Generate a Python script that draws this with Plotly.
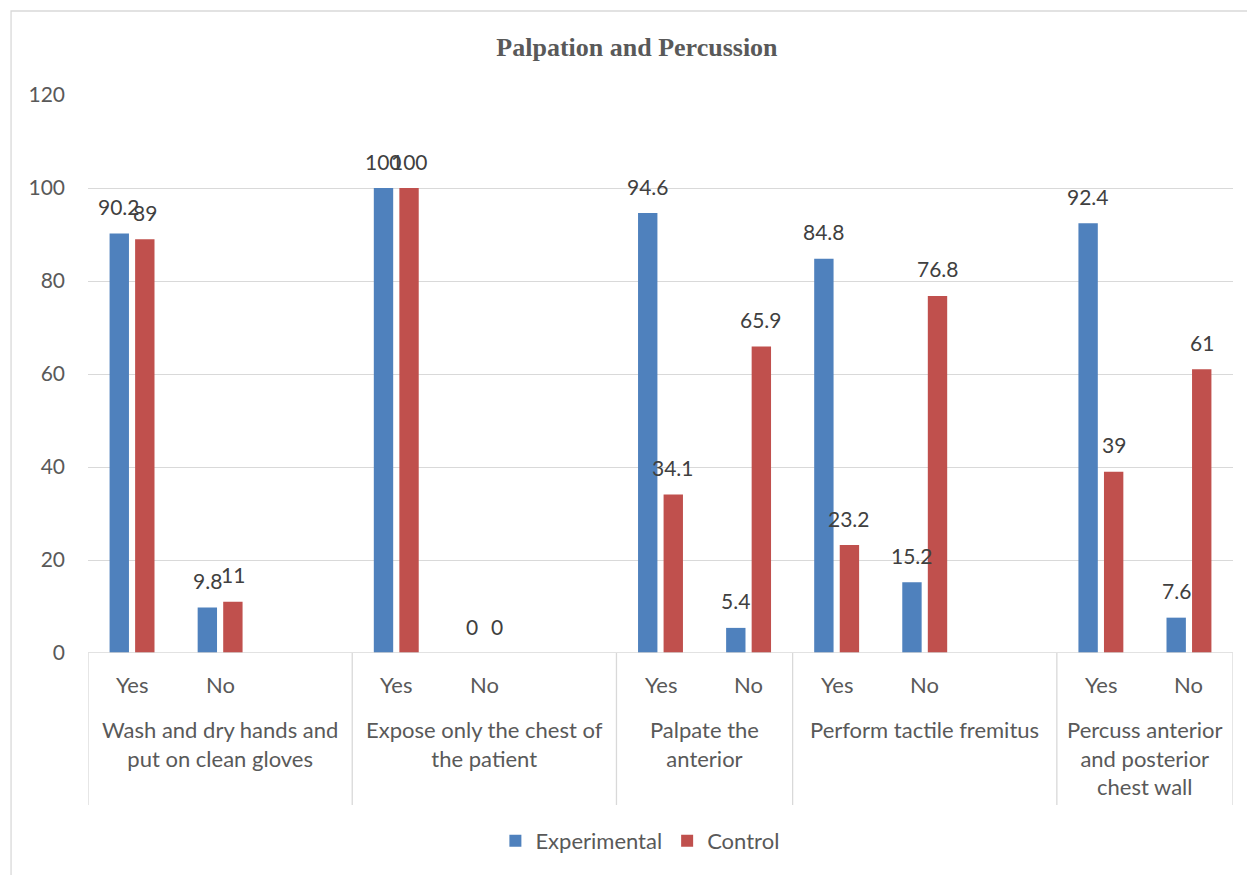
import plotly.graph_objects as go

# Chart data
title_text = "Palpation and Percussion"
groups = [
    "Wash and dry hands and<br>put on clean gloves",
    "Expose only the chest of<br>the patient",
    "Palpate the<br>anterior",
    "Perform tactile fremitus",
    "Percuss anterior<br>and posterior<br>chest wall",
]
# category slots per group (Excel keeps an empty row in some groups)
group_slots = [3, 3, 2, 3, 2]
answers = ["Yes", "No"]
experimental = [90.2, 9.8, 100, 0, 94.6, 5.4, 84.8, 15.2, 92.4, 7.6]
control = [89, 11, 100, 0, 34.1, 65.9, 23.2, 76.8, 39, 61]
series_names = ["Experimental", "Control"]
series_colors = ["#4F81BD", "#C0504D"]
y_ticks = [0, 20, 40, 60, 80, 100, 120]

TEXT = "#595959"
LABEL = "#404040"
GRID = "#D9D9D9"
FONT = "Lato"

# position of every Yes/No category on the numeric x axis
cat_x, cat_lab, group_bounds = [], [], [0]
pos = 0
for n in group_slots:
    for k, a in enumerate(answers):
        cat_x.append(pos + k)
        cat_lab.append(a)
    pos += n
    group_bounds.append(pos)

bar_w = 0.22
offsets = [-0.255, 0.035]

fig = go.Figure()
for name, vals, col, off in zip(series_names, [experimental, control], series_colors, offsets):
    fig.add_trace(go.Bar(
        x=cat_x, y=vals, name=name, width=bar_w, offset=off,
        marker=dict(color=col, line=dict(width=0)),
    ))
    for xv, v in zip(cat_x, vals):
        fig.add_annotation(
            x=xv + off + bar_w / 2, y=v, xref="x", yref="y",
            text=f"{v:g}", showarrow=False, yanchor="middle", yshift=27,
            font=dict(family=FONT, size=21, color=LABEL),
        )

total = group_bounds[-1]

# category axis: baseline, group dividers, answer labels and group labels
shapes = [dict(type="line", xref="x", yref="y", x0=-0.5, x1=total - 0.5, y0=0, y1=0,
               line=dict(color=GRID, width=1.3))]
for b in group_bounds:
    shapes.append(dict(type="line", xref="x", yref="paper", x0=b - 0.5, x1=b - 0.5,
                       y0=0, y1=-0.2724, line=dict(color=GRID, width=1.3)))
# outer chart frame
shapes.append(dict(type="rect", xref="paper", yref="paper", x0=-0.0672, x1=1.06,
                   y0=-0.46, y1=1.1505, line=dict(color=GRID, width=1.3), fillcolor="rgba(0,0,0,0)",
                   layer="below"))

for xv, lab in zip(cat_x, cat_lab):
    fig.add_annotation(x=xv, y=-0.0556, xref="x", yref="paper", text=lab, showarrow=False,
                       yanchor="middle", font=dict(family=FONT, size=22, color=TEXT))
for g, (a, b) in zip(groups, zip(group_bounds[:-1], group_bounds[1:])):
    fig.add_annotation(x=(a + b - 1) / 2, y=-0.110, xref="x", yref="paper", text=g,
                       showarrow=False, yanchor="top", align="center",
                       font=dict(family=FONT, size=22, color=TEXT))

fig.update_layout(
    width=1247, height=875,
    margin=dict(l=88, r=14, t=95, b=222),
    paper_bgcolor="white", plot_bgcolor="white",
    title=dict(text=f"<b>{title_text}</b>", x=0.5108, xref="container", xanchor="center",
               y=0.9463, yanchor="middle",
               font=dict(family="Liberation Serif", size=26, color=TEXT)),
    xaxis=dict(range=[-0.5, total - 0.5], showticklabels=False, showgrid=False,
               zeroline=False, showline=False, fixedrange=True),
    yaxis=dict(range=[0, 120], tickvals=y_ticks, showgrid=True, gridcolor=GRID, gridwidth=1.3,
               zeroline=False, showline=False, ticklabelstandoff=22,
               tickfont=dict(family=FONT, size=21, color=TEXT)),
    legend=dict(orientation="h", x=0.482, xanchor="center", y=-0.337, yanchor="middle",
                font=dict(family=FONT, size=22, color=TEXT)),
    shapes=shapes,
    showlegend=True,
)

fig.write_html("out.html")
